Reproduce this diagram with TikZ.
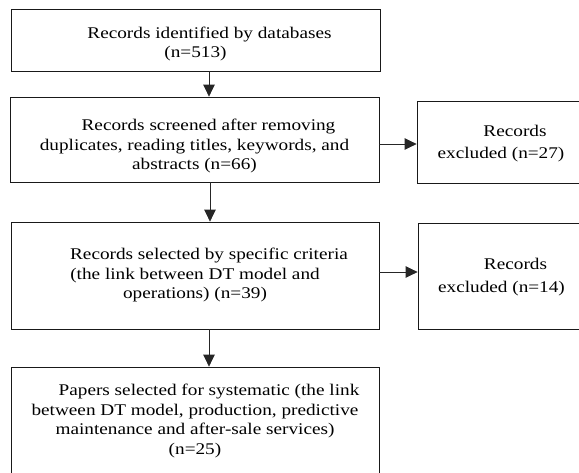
\documentclass[tikz,border=0pt]{standalone}
\usepackage{fontspec}
\setmainfont{Liberation Serif}[FakeStretch=1.18]
\usetikzlibrary{arrows.meta}
\begin{document}
\begin{tikzpicture}[x=1pt,y=-1pt,
  box/.style={draw=black!90,line width=0.8pt,rectangle,inner sep=0pt},
  txt/.style={align=center,inner sep=0pt,font=\fontsize{16.3}{19.5}\selectfont},
  rtxt/.style={align=center,inner sep=0pt,font=\fontsize{16.3}{22.5}\selectfont},
  arr/.style={draw=black!85,line width=0.8pt,-{Triangle[width=11.5pt,length=12pt]}}]
\useasboundingbox (0,0) rectangle (579,472);
\clip (0,0) rectangle (579,472);
% boxes
\node[box,minimum width=369pt,minimum height=62pt] (b1) at (195.5,40) {};
\node[box,minimum width=369pt,minimum height=85pt] (b2) at (194.5,139.5) {};
\node[box,minimum width=168pt,minimum height=82pt] (rb1) at (501,142) {};
\node[box,minimum width=368pt,minimum height=107pt] (b3) at (195,275.5) {};
\node[box,minimum width=167pt,minimum height=106pt] (rb2) at (501.5,276) {};
\node[box,minimum width=368pt,minimum height=120pt] (b4) at (195,427) {};
% texts
\node[txt] (t1) at (195.5,44) {\hspace*{28pt}Records identified by databases\\(n=513)};
\node[txt] (t2) at (194.5,146) {\hspace*{28pt}Records screened after removing\\duplicates, reading titles, keywords, and\\abstracts (n=66)};
\node[rtxt] (rt1) at (501,143.5) {\hspace*{28pt}Records\\excluded (n=27)};
\node[txt] (t3) at (195,275) {\hspace*{28pt}Records selected by specific criteria\\(the link between DT model and\\operations) (n=39)};
\node[rtxt] (rt2) at (501.5,277) {\hspace*{28pt}Records\\excluded (n=14)};
\node[txt] (t4) at (195,421) {\hspace*{28pt}Papers selected for systematic (the link\\between DT model, production, predictive\\maintenance and after-sale services)\\(n=25)};
% connectors
\coordinate (ax) at (209,0);
\coordinate (bx) at (210,0);
\draw[arr] (b1.south -| ax) -- (b2.north -| ax);
\draw[arr] (b2.south -| bx) -- (b3.north -| bx);
\draw[arr] (b3.south -| ax) -- (b4.north -| ax);
\draw[arr] ([yshift=-2pt]b2.east |- rb1.west) -- ([yshift=-2pt]rb1.west);
\draw[arr] ([yshift=3.5pt]b3.east) -- ([yshift=3.5pt]b3.east -| rb2.west);
\end{tikzpicture}
\end{document}
